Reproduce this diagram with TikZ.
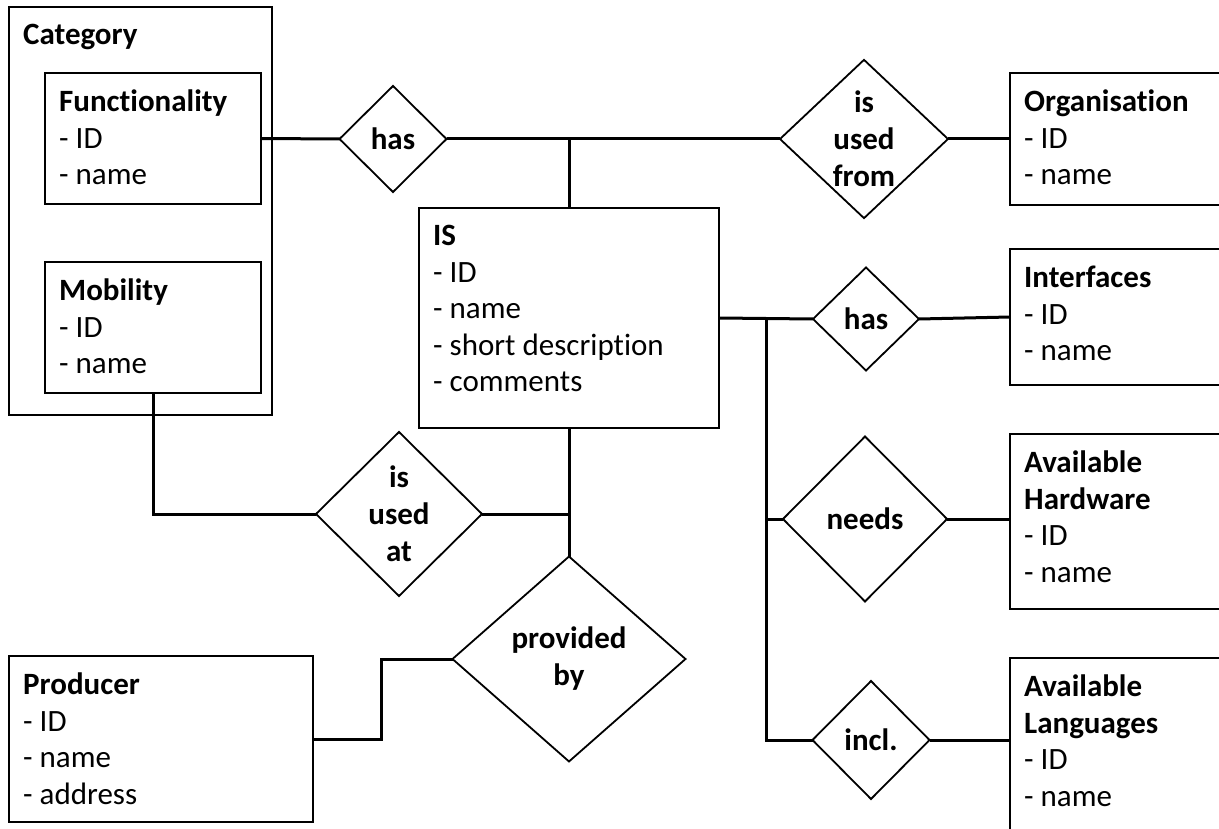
\documentclass[tikz,border=0pt]{standalone}
\usepackage{fontspec}
\setmainfont{Carlito}[Ligatures=NoCommon]
\usetikzlibrary{shapes.geometric}

\begin{document}
\begin{tikzpicture}[x=1pt, y=-1pt, font=\fontsize{31}{36.5}\selectfont,
    entity/.style = {draw, line width=2.6pt, rectangle, anchor=north west, inner sep=0pt, outer sep=0pt},
    attrs/.style = {anchor=north west, align=left, inner xsep=14pt, inner ysep=17pt},
    relation/.style = {draw, line width=1.8pt, diamond, inner sep=0pt, outer sep=0pt, align=center, font=\bfseries\fontsize{31}{37}\selectfont},
    link/.style = {line width=3pt}]
    \useasboundingbox (0,0) rectangle (1219,829);
    \clip (0,0) rectangle (1219,829);

    % entities
    \node[entity, minimum width=263pt, minimum height=408pt, label={[attrs]north west:\textbf{Category}}] (cat) at (9,7) {};
    \node[entity, minimum width=216pt, minimum height=131pt, label={[attrs]north west:{\textbf{Functionality}\\- ID\\- name}}] (func) at (45,73) {};
    \node[entity, minimum width=216pt, minimum height=131pt, label={[attrs]north west:{\textbf{Mobility}\\- ID\\- name}}] (mob) at (45,262) {};
    \node[entity, minimum width=300pt, minimum height=220pt, label={[attrs]north west:{\textbf{IS}\\- ID\\- name\\- short description\\- comments}}] (is) at (419,208) {};
    \node[entity, minimum width=260pt, minimum height=132pt, label={[attrs]north west:{\textbf{Organisation}\\- ID\\- name}}] (org) at (1010,73) {};
    \node[entity, minimum width=260pt, minimum height=136pt, label={[attrs]north west:{\textbf{Interfaces}\\- ID\\- name}}] (iface) at (1010,249) {};
    \node[entity, minimum width=260pt, minimum height=175pt, label={[attrs]north west:{\textbf{Available}\\\textbf{Hardware}\\- ID\\- name}}] (hw) at (1010,434) {};
    \node[entity, minimum width=260pt, minimum height=220pt, label={[attrs]north west:{\textbf{Available}\\\textbf{Languages}\\- ID\\- name}}] (lang) at (1010,658) {};
    \node[entity, minimum width=304pt, minimum height=166pt, label={[attrs]north west:{\textbf{Producer}\\- ID\\- name\\- address}}] (prod) at (9,656) {};

    % relations
    \node[relation, minimum width=107pt, minimum height=106pt] (has1) at (393,139) {has};
    \node[relation, minimum width=168pt, minimum height=158pt] (usedfrom) at (864,139) {is\\used\\from};
    \node[relation, minimum width=106pt, minimum height=103pt] (has2) at (866,319) {has};
    \node[relation, minimum width=164pt, minimum height=165pt] (needs) at (865,519) {needs};
    \node[relation, minimum width=117pt, minimum height=118pt] (incl) at (871,740) {incl.};
    \node[relation, minimum width=166pt, minimum height=164pt] (usedat) at (399,514) {is\\used\\at};
    \node[relation, minimum width=233pt, minimum height=205pt] (provided) at (569,659) {provided\\by};

    \coordinate (fork) at (766,319);
    \coordinate (kink) at (381,740);

    \draw[link] (func.east) -- (has1.west);
    \draw[link] (has1.east) -- (usedfrom.west);
    \draw[link] (is.north) -- (is.north |- has1.east);
    \draw[link] (usedfrom.east) -- (org.west);
    \draw[link] (is.east) -- (has2.west);
    \draw[link] (has2.east) -- (iface.west);
    \draw[link] (fork) |- (incl.west);
    \draw[link] (fork |- needs.west) -- (needs.west);
    \draw[link] (needs.east) -- (needs.east -| hw.west);
    \draw[link] (incl.east) -- (incl.east -| lang.west);
    \draw[link] (mob.south) |- (usedat.west);
    \draw[link] (usedat.east) -- (usedat.east -| is.south);
    \draw[link] (is.south) -- (provided.north);
    \draw[link] (prod.east) -| (kink |- provided.west) -- (provided.west);

    \end{tikzpicture}
\end{document}
